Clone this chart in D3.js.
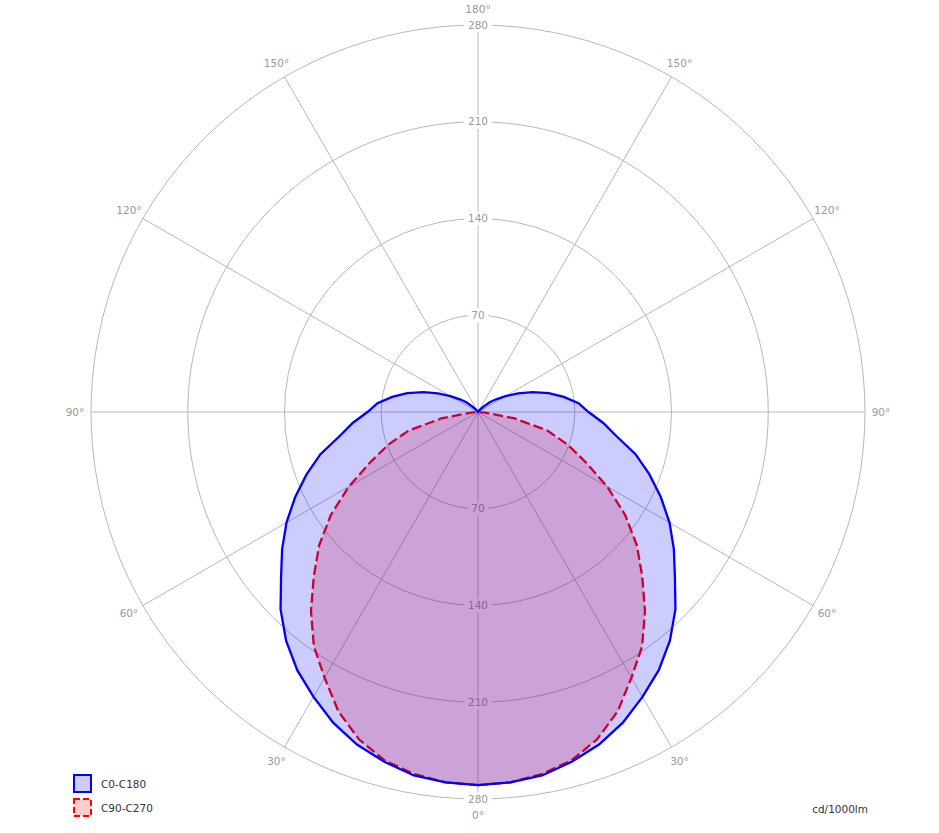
<!DOCTYPE html>
<html lang="en">
<head>
    <meta charset="utf-8">
    <title>Polar intensity</title>
    <script type="text/javascript" src="https://d3js.org/d3.v7.min.js"></script>
    <style>
        body { margin: 0; background: #fff; }
        text { font-family: "DejaVu Sans", Verdana, sans-serif; }
    </style>
</head>
<body>
    <div id="container"></div>
    <script type="text/javascript">
        var w = 939;
        var h = 833;

        // gamma angles (deg from nadir), 5 deg steps
        var gammas = d3.range(0, 181, 5);
        // C0-C180 (cd/1000lm)
        var c0c180 = [270, 269, 267, 262, 256, 248, 238, 228, 216, 202, 186, 173, 160, 146, 132, 118, 102, 91,
            80, 73, 63, 53, 42, 32, 23, 16, 11, 5, 2, 0, 0, 0, 0, 0, 0, 0, 0];
        // C90-C270 (cd/1000lm)
        var c90c270 = [270, 269, 266, 261, 252, 239, 222, 207, 188, 168, 150, 130, 108, 86, 69, 52, 27, 5,
            0, 0, 0, 0, 0, 0, 0, 0, 0, 0, 0, 0, 0, 0, 0, 0, 0, 0, 0];
        var ringTicks = [70, 140, 210, 280];
        var spokeAngles = [0, 30, 60, 90, 120, 150, 180, 210, 240, 270, 300, 330];
        var angleLabels = ["0°", "30°", "60°", "90°", "120°", "150°", "180°", "150°", "120°", "90°", "60°", "30°"];

        var cx = 478, cy = 412, R = 387;

        const svg = d3.select("div#container")
            .append("svg")
            .attr("width", w)
            .attr("height", h);

        var r = d3.scaleLinear().domain([0, 280]).range([0, R]);
        var rad = d => d * Math.PI / 180;

        var g = svg.append("g").attr("transform", "translate(" + cx + "," + cy + ")");

        // rings
        g.selectAll("circle.ring")
            .data(ringTicks)
            .enter()
            .append("circle")
            .attr("class", "ring")
            .attr("r", d => r(d))
            .attr("fill", "none")
            .attr("stroke", "#b8b8b8")
            .attr("stroke-width", 1);

        // spokes (angle measured from nadir)
        g.selectAll("line.spoke")
            .data(spokeAngles)
            .enter()
            .append("line")
            .attr("class", "spoke")
            .attr("x1", 0).attr("y1", 0)
            .attr("x2", d => -R * Math.sin(rad(d)))
            .attr("y2", d => R * Math.cos(rad(d)))
            .attr("stroke", "#b8b8b8")
            .attr("stroke-width", 1);

        // ring labels above and below the centre, on white patches
        var ringLabels = [];
        ringTicks.forEach(function (t) {
            ringLabels.push({ v: t, y: -r(t) });
            ringLabels.push({ v: t, y: r(t) });
        });
        var rl = g.selectAll("g.rl")
            .data(ringLabels)
            .enter()
            .append("g")
            .attr("class", "rl")
            .attr("transform", d => "translate(0," + d.y + ")");
        rl.append("rect")
            .attr("x", d => -String(d.v).length * 3.6 - 3)
            .attr("y", -7)
            .attr("width", d => String(d.v).length * 7.2 + 6)
            .attr("height", 14)
            .attr("fill", "#fff");
        rl.append("text")
            .text(d => d.v)
            .attr("text-anchor", "middle")
            .attr("dy", "0.35em")
            .attr("font-size", "10.5px")
            .attr("fill", "#9a9a9a");

        // angle labels
        g.selectAll("text.al")
            .data(spokeAngles)
            .enter()
            .append("text")
            .attr("class", "al")
            .text((d, i) => angleLabels[i])
            .attr("x", d => -403 * Math.sin(rad(d)))
            .attr("y", d => 403 * Math.cos(rad(d)))
            .attr("text-anchor", "middle")
            .attr("dy", "0.35em")
            .attr("font-size", "10.5px")
            .attr("fill", "#9a9a9a");

        // curves: right half gamma 0..180, left half back 180..0
        function pts(vals) {
            var right = gammas.map((gm, i) => [Math.PI - rad(gm), r(vals[i])]);
            var left = gammas.slice().reverse().map((gm, i) => [Math.PI + rad(gm), r(vals[vals.length - 1 - i])]);
            return right.concat(left);
        }
        var line = d3.lineRadial()
            .angle(d => d[0])
            .radius(d => d[1])
            .curve(d3.curveLinearClosed);

        g.append("path")
            .attr("d", line(pts(c90c270)))
            .attr("fill", "rgba(255,0,0,0.2)")
            .attr("stroke", "#ff0000")
            .attr("stroke-width", 2.3)
            .attr("stroke-dasharray", "10,4");

        g.append("path")
            .attr("d", line(pts(c0c180)))
            .attr("fill", "rgba(0,0,255,0.2)")
            .attr("stroke", "#0000ff")
            .attr("stroke-width", 2.3);

        // legend
        var legend = [
            { name: "C0-C180", fill: "#ccccff", stroke: "#0000ff", dash: null },
            { name: "C90-C270", fill: "#ffcccc", stroke: "#ff0000", dash: "6,3" }
        ];
        var lg = svg.selectAll("g.legend")
            .data(legend)
            .enter()
            .append("g")
            .attr("class", "legend")
            .attr("transform", (d, i) => "translate(74," + (775 + i * 24) + ")");
        lg.append("rect")
            .attr("width", 17).attr("height", 17)
            .attr("fill", d => d.fill)
            .attr("stroke", d => d.stroke)
            .attr("stroke-width", 2)
            .attr("stroke-dasharray", d => d.dash);
        lg.append("text")
            .text(d => d.name)
            .attr("x", 27).attr("y", 9)
            .attr("dy", "0.35em")
            .attr("font-size", "10.5px")
            .attr("fill", "#333");

        svg.append("text")
            .text("cd/1000lm")
            .attr("x", 868).attr("y", 809)
            .attr("dy", "0.35em")
            .attr("text-anchor", "end")
            .attr("font-size", "10.5px")
            .attr("fill", "#333");
    </script>
</body>
</html>
